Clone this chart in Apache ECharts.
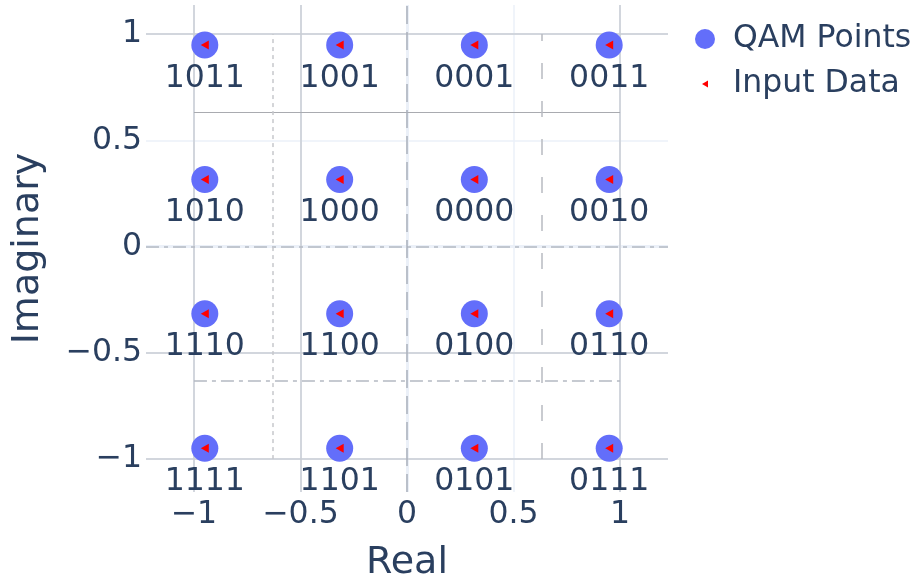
<!DOCTYPE html>
<html>
<head>
<meta charset="utf-8">
<title>16-QAM Constellation</title>
<script src="https://cdn.jsdelivr.net/npm/echarts@6.0.0/dist/echarts.min.js"></script>
<style>
  html, body { margin: 0; padding: 0; background: #ffffff; }
  #chart { width: 917px; height: 584px; }
</style>
</head>
<body>
<div id="chart"></div>
<script>
// 16-QAM constellation points (normalised, unit average power)
const qamReal = [-0.949, -0.316, 0.316, 0.949,
                 -0.949, -0.316, 0.316, 0.949,
                 -0.949, -0.316, 0.316, 0.949,
                 -0.949, -0.316, 0.316, 0.949];
const qamImag = [0.949, 0.949, 0.949, 0.949,
                 0.316, 0.316, 0.316, 0.316,
                 -0.316, -0.316, -0.316, -0.316,
                 -0.949, -0.949, -0.949, -0.949];
const qamBits = ['1011', '1001', '0001', '0011',
                 '1010', '1000', '0000', '0010',
                 '1110', '1100', '0100', '0110',
                 '1111', '1101', '0101', '0111'];

// Received input symbols
const inputReal = [-0.949, -0.316, 0.316, 0.949,
                   -0.949, -0.316, 0.316, 0.949,
                   -0.949, -0.316, 0.316, 0.949,
                   -0.949, -0.316, 0.316, 0.949];
const inputImag = [0.949, 0.949, 0.949, 0.949,
                   0.316, 0.316, 0.316, 0.316,
                   -0.316, -0.316, -0.316, -0.316,
                   -0.949, -0.949, -0.949, -0.949];

// Decision boundaries and emphasised reference levels
const boundaryImag = [0.632, 0, -0.632];
const boundaryReal = [-0.632, 0, 0.632];
const boundarySpan = [-1, 1];
const refReal = [-1, -0.5, 1];
const refImag = [1, -0.5, -1];

// Axis ranges
const realRange = [-1.225, 1.225];
const imagRange = [-1.155, 1.137];

const FONT = 'DejaVu Sans';
const INK = '#2a3f5f';
const GRID = '#ebf0f8';
const TEXT_SIZE = 31.5;
const TITLE_SIZE = 38;

function tickText(v) {
  const m = Math.abs(v % 0.5);
  if (m > 1e-9 && Math.abs(m - 0.5) > 1e-9) return '';
  const r = Math.round(v * 10) / 10;
  if (r === 0) return '0';
  return (r < 0 ? '\u2212' : '') + String(Math.abs(r));
}

// Style of each decision boundary, in the order of the arrays above
const hStyles = [
  { color: '#a9abb0', width: 1.2, type: 'solid' },
  { color: '#b4b9c2', width: 1.5, type: [13, 5, 4, 5] },
  { color: '#b4b9c2', width: 1.5, type: [13, 5, 4, 5] }
];
const vStyles = [
  { color: '#c6c8cc', width: 1.5, type: [4, 4] },
  { color: '#aab0ba', width: 1.5, type: [18, 8] },
  { color: '#b8bbc1', width: 1.5, type: [16, 22] }
];
const hFull = [false, true, false];
const vFull = [false, true, false];

const markData = [];
// light zero lines underneath
markData.push({ xAxis: 0, lineStyle: { color: GRID, width: 3, type: 'solid' } });
markData.push({ yAxis: 0, lineStyle: { color: GRID, width: 3, type: 'solid' } });
// emphasised grid lines
refReal.forEach(v => markData.push({ xAxis: v, lineStyle: { color: '#c8ccd3', width: 1.5, type: 'solid' } }));
refImag.forEach(v => markData.push({ yAxis: v, lineStyle: { color: '#c8ccd3', width: 1.5, type: 'solid' } }));
// decision boundaries
boundaryImag.forEach((v, i) => {
  if (hFull[i]) markData.push({ yAxis: v, lineStyle: hStyles[i] });
  else markData.push([{ coord: [boundarySpan[0], v], lineStyle: hStyles[i] }, { coord: [boundarySpan[1], v] }]);
});
boundaryReal.forEach((v, i) => {
  if (vFull[i]) markData.push({ xAxis: v, lineStyle: vStyles[i] });
  else markData.push([{ coord: [v, boundarySpan[0]], lineStyle: vStyles[i] }, { coord: [v, boundarySpan[1]] }]);
});

const chart = echarts.init(document.getElementById('chart'), null, { renderer: 'canvas' });

chart.setOption({
  animation: false,
  backgroundColor: '#ffffff',
  textStyle: { fontFamily: FONT, color: INK },
  grid: { left: 146, right: 249, top: 5, bottom: 92, containLabel: false, outerBoundsMode: 'none' },
  legend: [
    {
      data: [{ name: 'QAM Points', icon: 'circle' }],
      orient: 'vertical',
      left: 690, top: 18,
      itemWidth: 20, itemHeight: 20,
      textStyle: { fontFamily: FONT, fontSize: TEXT_SIZE, color: INK, padding: [0, 0, 0, 13] }
    },
    {
      data: [{ name: 'Input Data', icon: 'path://M0,4 L7,0 L7,8 Z' }],
      orient: 'vertical',
      left: 697, top: 63,
      itemWidth: 6, itemHeight: 8,
      symbolRotate: 0,
      textStyle: { fontFamily: FONT, fontSize: TEXT_SIZE, color: INK, padding: [0, 0, 0, 20] }
    }
  ],
  xAxis: {
    type: 'value',
    min: realRange[0], max: realRange[1],
    minInterval: 0.5, maxInterval: 0.5,
    name: 'Real',
    nameLocation: 'middle',
    nameGap: 52,
    nameTextStyle: { fontFamily: FONT, fontSize: TITLE_SIZE, color: INK },
    axisLine: { show: false },
    axisTick: { show: false },
    axisLabel: {
      fontFamily: FONT, fontSize: TEXT_SIZE, color: INK, margin: 7,
      showMinLabel: false, showMaxLabel: false,
      formatter: tickText
    },
    splitLine: { show: true, showMinLine: false, showMaxLine: false, lineStyle: { color: GRID, width: 1.5 } }
  },
  yAxis: {
    type: 'value',
    min: imagRange[0], max: imagRange[1],
    minInterval: 0.5, maxInterval: 0.5,
    name: 'Imaginary',
    nameLocation: 'middle',
    nameGap: 99,
    nameTextStyle: { fontFamily: FONT, fontSize: TITLE_SIZE, color: INK },
    axisLine: { show: false },
    axisTick: { show: false },
    axisLabel: {
      fontFamily: FONT, fontSize: TEXT_SIZE, color: INK, margin: 4,
      showMinLabel: false, showMaxLabel: false,
      formatter: tickText
    },
    splitLine: { show: true, showMinLine: false, showMaxLine: false, lineStyle: { color: GRID, width: 1.5 } }
  },
  series: [
    {
      name: 'QAM Points',
      type: 'scatter',
      z: 3,
      symbol: 'circle',
      symbolSize: 27,
      itemStyle: { color: '#636efa', opacity: 1 },
      data: qamReal.map((x, i) => [x, qamImag[i], qamBits[i]]),
      label: {
        show: true,
        position: 'bottom',
        distance: 4,
        formatter: p => p.value[2],
        fontFamily: FONT,
        fontSize: TEXT_SIZE,
        color: INK
      },
      markLine: {
        silent: true,
        z: 1,
        symbol: ['none', 'none'],
        label: { show: false },
        emphasis: { disabled: true },
        data: markData
      }
    },
    {
      name: 'Input Data',
      type: 'scatter',
      z: 4,
      symbol: 'triangle',
      symbolRotate: 90,
      symbolSize: [9, 8],
      itemStyle: { color: '#ff0000', opacity: 1 },
      data: inputReal.map((x, i) => [x, inputImag[i]])
    }
  ]
});
</script>
</body>
</html>
